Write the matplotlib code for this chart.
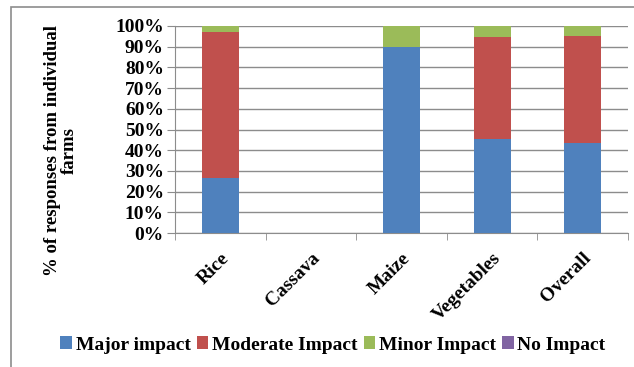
import matplotlib.pyplot as plt
import numpy as np
from matplotlib.patches import Rectangle

categories = ["Rice", "Cassava", "Maize", "Vegetables", "Overall"]
series_names = ["Major impact", "Moderate Impact", "Minor Impact", "No Impact"]
major = [26.5, 0, 90.0, 45.5, 43.5]
moderate = [70.5, 0, 0, 49.0, 51.5]
minor = [3.0, 0, 10.0, 5.5, 5.0]
no_impact = [0, 0, 0, 0, 0]
colors = ["#4F81BD", "#C0504D", "#9BBB59", "#8064A2"]

plt.rcParams["font.family"] = ["Liberation Serif", "DejaVu Serif"]
plt.rcParams["font.weight"] = "bold"

fig = plt.figure(figsize=(6.34, 3.67), dpi=100)
ax = fig.add_axes([175 / 634, 1 - 233 / 367, 453 / 634, 207 / 367])

x = np.arange(len(categories))
bottom = np.zeros(len(categories))
for name, vals, c in zip(series_names, [major, moderate, minor, no_impact], colors):
    ax.bar(x, vals, 0.41, bottom=bottom, color=c, label=name, zorder=3)
    bottom += np.array(vals)

ax.set_xlim(-0.5, len(categories) - 0.5)
ax.set_ylim(0, 100)
ax.set_yticks(np.arange(0, 101, 10))
ax.set_yticklabels([f"{v}%" for v in range(0, 101, 10)], fontsize=14, fontweight="bold")
ax.yaxis.grid(True, color="#8c8c8c", linewidth=1, zorder=0)
ax.tick_params(axis="y", length=6, color="#8c8c8c", pad=2)

ax.set_xticks(x)
ax.set_xticklabels(categories, rotation=45, ha="right", rotation_mode="anchor",
                   fontsize=14, fontweight="bold")
ax.set_xticks(np.arange(-0.5, len(categories)), minor=True)
ax.tick_params(axis="x", which="major", length=0, pad=12)
ax.tick_params(axis="x", which="minor", length=5, color="#8c8c8c")

for side in ["top", "right"]:
    ax.spines[side].set_visible(False)
ax.spines["left"].set_color("#8c8c8c")
ax.spines["bottom"].set_color("#8c8c8c")

ax.set_ylabel("% of responses from individual\nfarms", fontsize=13.5, fontweight="bold",
              linespacing=1.0)
ax.yaxis.set_label_coords(-0.214, 0.40)

fig.legend(loc="center", bbox_to_anchor=(333 / 634, 1 - 345 / 367), ncol=4,
           frameon=False, handlelength=0.6, handleheight=0.6,
           handletextpad=0.2, columnspacing=0.3, prop={"weight": "bold", "size": 14})

fig.add_artist(Rectangle((11 / 634, -0.1), 1.2, 1 - 7 / 367 + 0.1, transform=fig.transFigure,
                         fill=False, edgecolor="#8c8c8c", linewidth=1.2))

fig.savefig("out.png", dpi=100)
